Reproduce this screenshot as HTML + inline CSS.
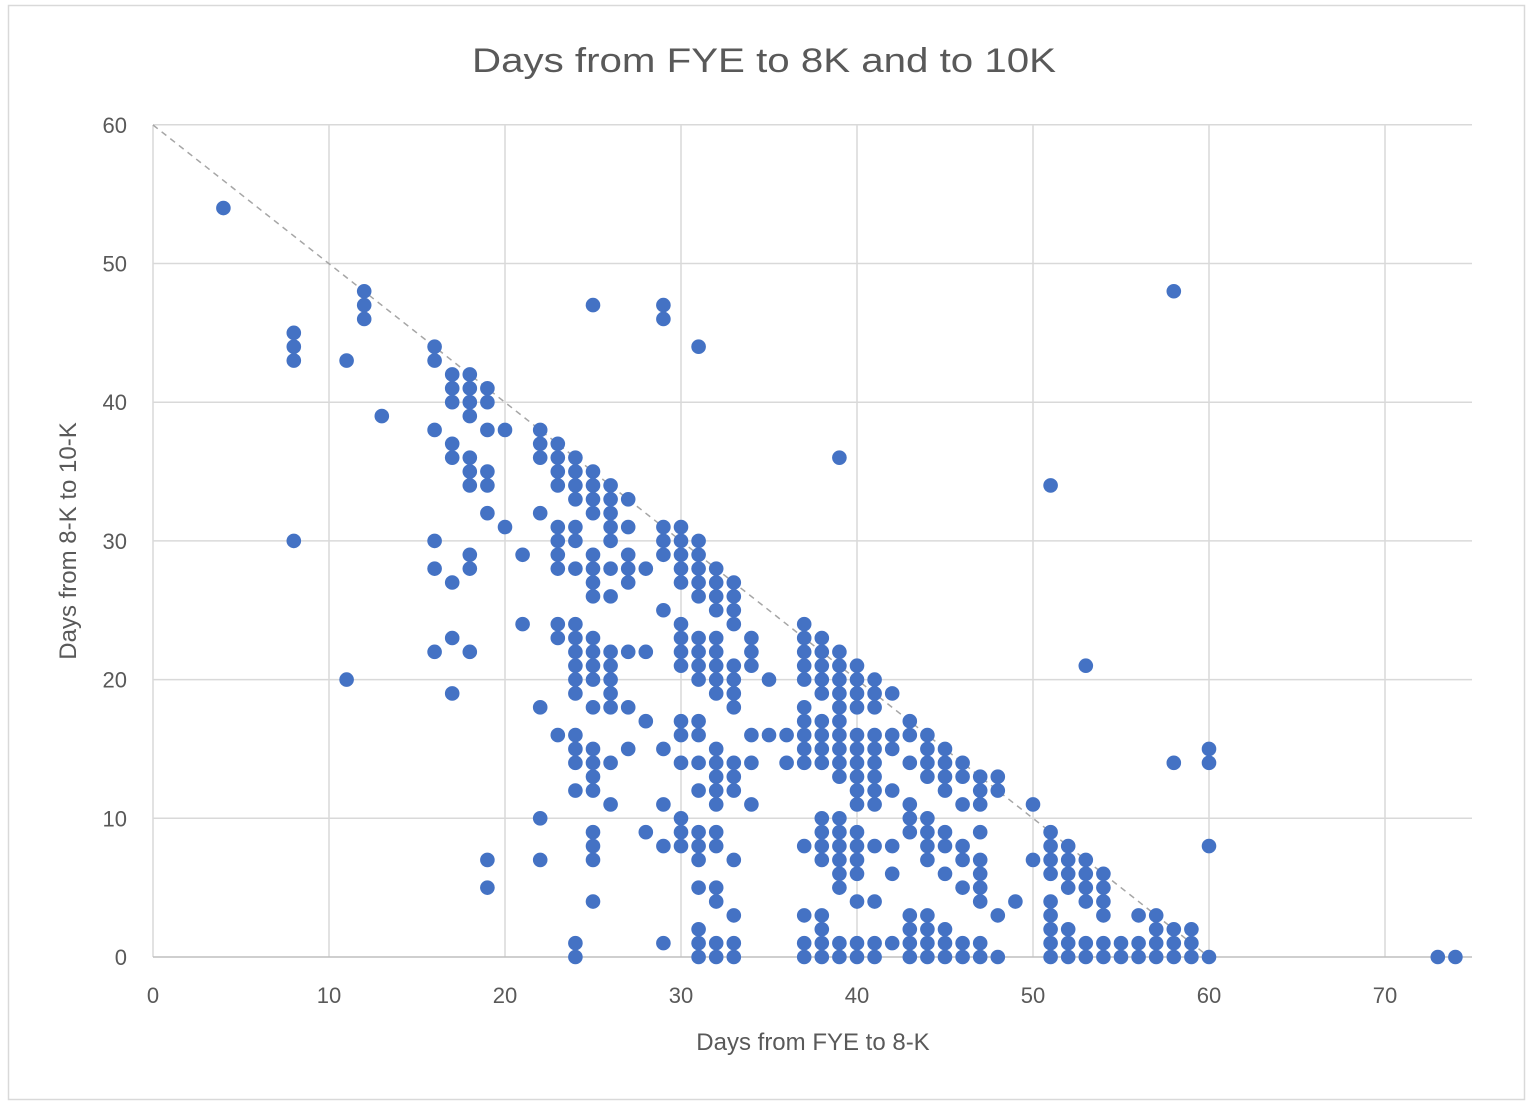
<!DOCTYPE html>
<html><head><meta charset="utf-8"><style>
html,body{margin:0;padding:0;background:#fff;}
svg{display:block;font-family:"Liberation Sans",sans-serif;}
</style></head><body>
<svg id="c" width="1532" height="1107" viewBox="0 0 1532 1107" xmlns="http://www.w3.org/2000/svg">
<rect x="0" y="0" width="1532" height="1107" fill="#fff"/>
<rect x="8.5" y="5.5" width="1516" height="1094" fill="#fff" stroke="#d9d9d9" stroke-width="1.5"/>
<text x="764" y="72" text-anchor="middle" font-size="34" fill="#595959" textLength="584" lengthAdjust="spacingAndGlyphs">Days from FYE to 8K  and to 10K</text>
<g id="grid" stroke="#d9d9d9" stroke-width="1.5"></g>
<line x1="153" y1="957" x2="1472" y2="957" stroke="#bfbfbf" stroke-width="1.5"/>
<line x1="153" y1="125" x2="1209" y2="957" stroke="#a6a6a6" stroke-width="1.5" stroke-dasharray="6,5"/>
<g id="ticks" font-size="22" fill="#595959"></g>
<text x="813" y="1050" text-anchor="middle" font-size="24" fill="#595959">Days from FYE to 8-K</text>
<text transform="translate(76,541) rotate(-90)" text-anchor="middle" font-size="24" fill="#595959">Days from 8-K to 10-K</text>
<g id="pts" fill="#4472c4"></g>
</svg>
<script>
var NS="http://www.w3.org/2000/svg";
function X(v){return 153+v*17.6;}
function Y(v){return 957-v*13.87;}
var g=document.getElementById("grid"),t=document.getElementById("ticks"),p=document.getElementById("pts");
function el(tag,a,par,txt){var e=document.createElementNS(NS,tag);for(var k in a)e.setAttribute(k,a[k]);if(txt!==undefined)e.textContent=txt;par.appendChild(e);return e;}
for(var i=0;i<=70;i+=10){ if(i>0) el("line",{x1:X(i),y1:125,x2:X(i),y2:957},g); el("text",{x:X(i),y:1003,"text-anchor":"middle"},t,i);}
for(var j=10;j<=60;j+=10){ el("line",{x1:153,y1:Y(j),x2:1472,y2:Y(j)},g);}
el("line",{x1:153,y1:125,x2:153,y2:957},g);
for(var j=0;j<=60;j+=10){ el("text",{x:127,y:Y(j)+8,"text-anchor":"end"},t,j);}
var d={
4:[54],8:[45,44,43,30],11:[43,20],12:[48,47,46],13:[39],
16:[44,43,38,30,28,22],17:[42,41,40,37,36,27,23,19],18:[42,41,40,39,36,35,34,29,28,22],
19:[41,40,38,35,34,32,7,5],20:[38,31],21:[29,24],22:[38,37,36,32,18,10,7],
23:[37,36,35,34,31,30,29,28,24,23,16],
24:[36,35,34,33,31,30,28,24,23,22,21,20,19,16,15,14,12,1,0],
25:[47,35,34,33,32,29,28,27,26,23,22,21,20,18,15,14,13,12,9,8,7,4],
26:[34,33,32,31,30,28,26,22,21,20,19,18,14,11],
27:[33,31,29,28,27,22,18,15],28:[28,22,17,9],
29:[47,46,31,30,29,25,15,11,8,1],
30:[31,30,29,28,27,24,23,22,21,17,16,14,10,9,8],
31:[44,30,29,28,27,26,23,22,21,20,17,16,14,12,9,8,7,5,2,1,0],
32:[28,27,26,25,23,22,21,20,19,15,14,13,12,11,9,8,5,4,1,0],
33:[27,26,25,24,21,20,19,18,14,13,12,7,3,1,0],
34:[23,22,21,16,14,11],35:[20,16],36:[16,14],
37:[24,23,22,21,20,18,17,16,15,14,8,3,1,0],
38:[23,22,21,20,19,17,16,15,14,10,9,8,7,3,2,1,0],
39:[36,22,21,20,19,18,17,16,15,14,13,10,9,8,7,6,5,1,0],
40:[21,20,19,18,16,15,14,13,12,11,9,8,7,6,4,1,0],
41:[20,19,18,16,15,14,13,12,11,8,4,1,0],
42:[19,16,15,12,8,6,1],
43:[17,16,14,11,10,9,3,2,1,0],
44:[16,15,14,13,10,9,8,7,3,2,1,0],
45:[15,14,13,12,9,8,6,2,1,0],
46:[14,13,11,8,7,5,1,0],
47:[13,12,11,9,7,6,5,4,1,0],
48:[13,12,3,0],49:[4],50:[11,7],
51:[34,9,8,7,6,4,3,2,1,0],52:[8,7,6,5,2,1,0],53:[21,7,6,5,4,1,0],
54:[6,5,4,3,1,0],55:[1,0],56:[3,1,0],57:[3,2,1,0],58:[48,14,2,1,0],
59:[2,1,0],60:[15,14,8,0],73:[0],74:[0]};
for(var x in d){d[x].forEach(function(y){el("circle",{cx:X(+x),cy:Y(y),r:7.3},p);});}
</script>
</body></html>
